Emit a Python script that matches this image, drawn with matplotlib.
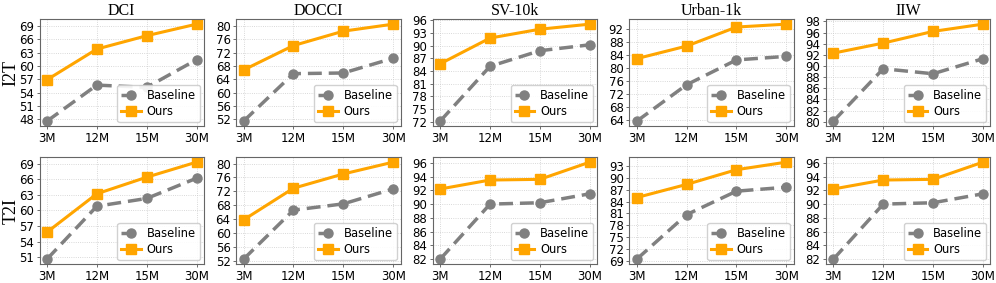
"""Baseline vs ours retrieval scores across data scales (I2T / T2I)."""

import matplotlib
matplotlib.use('Agg')
import matplotlib.pyplot as plt
from matplotlib.ticker import MultipleLocator

scales = ['3M', '12M', '15M', '30M']
datasets = ['DCI', 'DOCCI', 'SV-10k', 'Urban-1k', 'IIW']
tasks = ['I2T', 'T2I']

# I2T scores
i2t_baseline = {
    'DCI': [47.6, 55.7, 55.2, 61.4],
    'DOCCI': [51.5, 65.7, 65.9, 70.3],
    'SV-10k': [72.1, 85.1, 88.8, 90.2],
    'Urban-1k': [63.5, 74.8, 82.5, 83.6],
    'IIW': [80.1, 89.5, 88.6, 91.3],
}
i2t_ours = {
    'DCI': [56.9, 63.8, 66.8, 69.4],
    'DOCCI': [66.8, 74.1, 78.4, 80.5],
    'SV-10k': [85.7, 91.8, 93.9, 95.1],
    'Urban-1k': [82.9, 86.8, 92.7, 93.6],
    'IIW': [92.3, 94.1, 96.2, 97.5],
}

# T2I scores
t2i_baseline = {
    'DCI': [50.6, 60.8, 62.3, 66.2],
    'DOCCI': [52.5, 66.6, 68.4, 72.7],
    'SV-10k': [82.0, 90.0, 90.2, 91.5],
    'Urban-1k': [69.5, 80.7, 86.6, 87.6],
    'IIW': [82.0, 90.0, 90.2, 91.5],
}
t2i_ours = {
    'DCI': [55.8, 63.2, 66.4, 69.3],
    'DOCCI': [63.8, 72.9, 77.0, 80.4],
    'SV-10k': [92.2, 93.5, 93.6, 96.1],
    'Urban-1k': [85.0, 88.3, 92.0, 93.9],
    'IIW': [92.2, 93.5, 93.6, 96.1],
}

# y tick steps per panel
i2t_steps = {'DCI': 3, 'DOCCI': 4, 'SV-10k': 3, 'Urban-1k': 4, 'IIW': 2}
t2i_steps = {'DCI': 3, 'DOCCI': 4, 'SV-10k': 2, 'Urban-1k': 3, 'IIW': 2}

W, H = 996, 283
fig = plt.figure(figsize=(W / 100, H / 100), dpi=100)

ax_w, ax_h = 164.5, 106.7
lefts = [39.5 + i * 196.6 for i in range(5)]
tops = [19.3, 157.3]

rows = [(i2t_baseline, i2t_ours, i2t_steps),
        (t2i_baseline, t2i_ours, t2i_steps)]

for r, (base, ours, steps) in enumerate(rows):
    for c, name in enumerate(datasets):
        ax = fig.add_axes([lefts[c] / W, 1 - (tops[r] + ax_h) / H,
                           ax_w / W, ax_h / H])
        x = list(range(len(scales)))
        ax.plot(x, base[name], color='gray', linestyle='--', linewidth=2.5,
                dashes=(4, 2), marker='o', markersize=6.5,
                label='Baseline')
        ax.plot(x, ours[name], color='orange', linewidth=2.2,
                marker='s', markersize=6.5, label='Ours')
        ax.set_xticks(x)
        ax.set_xticklabels(scales)
        ax.yaxis.set_major_locator(MultipleLocator(steps[name]))
        ax.tick_params(labelsize=8.5, length=2.5, width=0.6, pad=1.5,
                       color='#555555')
        ax.grid(True, linestyle=':', linewidth=0.6, color='#cccccc')
        for sp in ax.spines.values():
            sp.set_color('#666666')
            sp.set_linewidth(0.8)
        ax.legend(loc='lower right', fontsize=8.3, handlelength=1.7,
                  borderpad=0.35, labelspacing=0.25, handletextpad=0.5,
                  borderaxespad=0.35, framealpha=0.9, edgecolor='#cccccc')
        if r == 0:
            ax.set_title(name, fontsize=11.5, family='Liberation Serif',
                         pad=3)

    # row label on the far left
    fig.text(11 / W, 1 - (tops[r] + ax_h / 2) / H, tasks[r],
             rotation=90, ha='center', va='center',
             fontsize=13, family='Liberation Serif')

fig.savefig('out.png', dpi=100)
